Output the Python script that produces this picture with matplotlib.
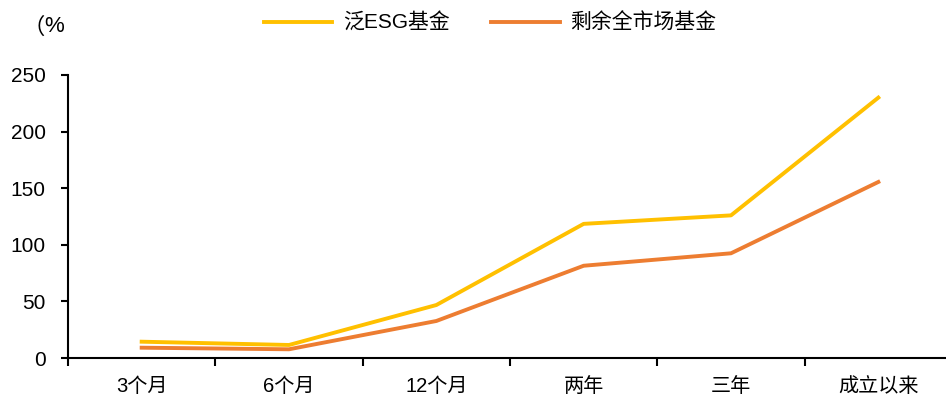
import matplotlib.pyplot as plt
import numpy as np

plt.rcParams['font.family'] = ['Liberation Sans', 'Noto Sans CJK SC']

categories = ['3个月', '6个月', '12个月', '两年', '三年', '成立以来']
esg = [14.4, 11.5, 46.8, 118.5, 126.0, 230.0]
rest = [9.1, 7.7, 32.7, 81.5, 92.5, 155.5]

fig = plt.figure(figsize=(9.46, 4.03), dpi=100)
ax = fig.add_axes([68 / 946, 45 / 403, 884 / 946, 283 / 403])

x = np.arange(len(categories))
ax.plot(x, esg, color='#FFC000', lw=2.8, label='泛ESG基金')
ax.plot(x, rest, color='#ED7D31', lw=2.8, label='剩余全市场基金')

ax.set_xlim(-0.5, len(categories) - 0.5)
ax.set_ylim(0, 250)
ax.set_yticks([0, 50, 100, 150, 200, 250])
ax.set_xticks(x)
ax.set_xticklabels(categories)
ax.set_xticks(np.arange(len(categories) + 1) - 0.5, minor=True)
ax.tick_params(axis='x', which='major', length=0, pad=14, labelsize=14.5)
ax.tick_params(axis='x', which='minor', length=6, width=1.5, direction='out')
ax.tick_params(axis='y', length=5, width=1.5, labelsize=15, pad=11)

for s in ['top', 'right']:
    ax.spines[s].set_visible(False)
for s in ['left', 'bottom']:
    ax.spines[s].set_linewidth(1.5)

fig.text(22 / 946, 1 - 27 / 403, '（', fontsize=16, va='center', ha='left',
         family=['Noto Sans CJK SC'])
fig.text(44 / 946, 1 - 27 / 403, '%', fontsize=16, va='center', ha='left')

ax.legend(loc='center', bbox_to_anchor=(490 / 946, 1 - 23 / 403),
          bbox_transform=fig.transFigure, ncol=2, frameon=False,
          fontsize=15, handlelength=3.3, columnspacing=2.0, handletextpad=0.5)

fig.savefig('out.png', dpi=100)
